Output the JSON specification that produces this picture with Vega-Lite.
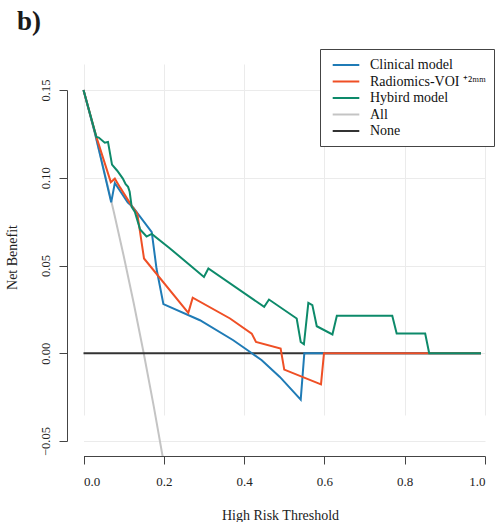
{
  "$schema": "https://vega.github.io/schema/vega-lite/v6.json",
  "width": 432,
  "height": 407,
  "autosize": "none",
  "padding": {"left": 67, "top": 49, "right": 0, "bottom": 66},
  "background": "white",
  "title": {
    "text": "b)",
    "anchor": "start",
    "frame": "group",
    "dx": -50,
    "dy": 22,
    "offset": 14,
    "baseline": "alphabetic",
    "font": "Liberation Serif",
    "fontSize": 27,
    "fontWeight": "bold",
    "color": "#1a1a1a"
  },
  "config": {
    "view": {"stroke": null},
    "font": "Liberation Serif"
  },
  "data": {
    "values": [
      {"series": "All", "x": 0, "y": 0.15},
      {"series": "All", "x": 0.025, "y": 0.1282},
      {"series": "All", "x": 0.05, "y": 0.1053},
      {"series": "All", "x": 0.075, "y": 0.0811},
      {"series": "All", "x": 0.1, "y": 0.0556},
      {"series": "All", "x": 0.125, "y": 0.0286},
      {"series": "All", "x": 0.15, "y": 0.0},
      {"series": "All", "x": 0.175, "y": -0.0303},
      {"series": "All", "x": 0.2, "y": -0.0625},
      {"series": "None", "x": 0, "y": 0},
      {"series": "None", "x": 0.99, "y": 0},
      {"series": "Clinical model", "x": 0, "y": 0.15},
      {"series": "Clinical model", "x": 0.028, "y": 0.126},
      {"series": "Clinical model", "x": 0.069, "y": 0.086},
      {"series": "Clinical model", "x": 0.078, "y": 0.097},
      {"series": "Clinical model", "x": 0.11, "y": 0.086},
      {"series": "Clinical model", "x": 0.124, "y": 0.083},
      {"series": "Clinical model", "x": 0.17, "y": 0.069},
      {"series": "Clinical model", "x": 0.182, "y": 0.048},
      {"series": "Clinical model", "x": 0.199, "y": 0.028},
      {"series": "Clinical model", "x": 0.29, "y": 0.0188},
      {"series": "Clinical model", "x": 0.373, "y": 0.0074},
      {"series": "Clinical model", "x": 0.415, "y": 0.0007},
      {"series": "Clinical model", "x": 0.444, "y": -0.004},
      {"series": "Clinical model", "x": 0.489, "y": -0.0135},
      {"series": "Clinical model", "x": 0.541, "y": -0.0264},
      {"series": "Clinical model", "x": 0.55, "y": 0},
      {"series": "Clinical model", "x": 0.99, "y": 0},
      {"series": "Radiomics-VOI ⁺²ᵐᵐ", "x": 0, "y": 0.15},
      {"series": "Radiomics-VOI ⁺²ᵐᵐ", "x": 0.032, "y": 0.1233},
      {"series": "Radiomics-VOI ⁺²ᵐᵐ", "x": 0.068, "y": 0.0975},
      {"series": "Radiomics-VOI ⁺²ᵐᵐ", "x": 0.078, "y": 0.0995},
      {"series": "Radiomics-VOI ⁺²ᵐᵐ", "x": 0.091, "y": 0.0945},
      {"series": "Radiomics-VOI ⁺²ᵐᵐ", "x": 0.12, "y": 0.084},
      {"series": "Radiomics-VOI ⁺²ᵐᵐ", "x": 0.134, "y": 0.0796},
      {"series": "Radiomics-VOI ⁺²ᵐᵐ", "x": 0.1507, "y": 0.054},
      {"series": "Radiomics-VOI ⁺²ᵐᵐ", "x": 0.261, "y": 0.023},
      {"series": "Radiomics-VOI ⁺²ᵐᵐ", "x": 0.272, "y": 0.0317},
      {"series": "Radiomics-VOI ⁺²ᵐᵐ", "x": 0.365, "y": 0.0198},
      {"series": "Radiomics-VOI ⁺²ᵐᵐ", "x": 0.419, "y": 0.0112},
      {"series": "Radiomics-VOI ⁺²ᵐᵐ", "x": 0.4296, "y": 0.0064},
      {"series": "Radiomics-VOI ⁺²ᵐᵐ", "x": 0.491, "y": 0.0027},
      {"series": "Radiomics-VOI ⁺²ᵐᵐ", "x": 0.5, "y": -0.0093},
      {"series": "Radiomics-VOI ⁺²ᵐᵐ", "x": 0.5915, "y": -0.0177},
      {"series": "Radiomics-VOI ⁺²ᵐᵐ", "x": 0.599, "y": 0},
      {"series": "Radiomics-VOI ⁺²ᵐᵐ", "x": 0.99, "y": 0},
      {"series": "Hybird  model", "x": 0, "y": 0.15},
      {"series": "Hybird  model", "x": 0.032, "y": 0.1233},
      {"series": "Hybird  model", "x": 0.038, "y": 0.1229},
      {"series": "Hybird  model", "x": 0.053, "y": 0.12},
      {"series": "Hybird  model", "x": 0.061, "y": 0.1204},
      {"series": "Hybird  model", "x": 0.071, "y": 0.1075},
      {"series": "Hybird  model", "x": 0.084, "y": 0.104},
      {"series": "Hybird  model", "x": 0.098, "y": 0.0995},
      {"series": "Hybird  model", "x": 0.105, "y": 0.0963},
      {"series": "Hybird  model", "x": 0.111, "y": 0.0948},
      {"series": "Hybird  model", "x": 0.115, "y": 0.092},
      {"series": "Hybird  model", "x": 0.12, "y": 0.0834},
      {"series": "Hybird  model", "x": 0.128, "y": 0.0805},
      {"series": "Hybird  model", "x": 0.141, "y": 0.0705},
      {"series": "Hybird  model", "x": 0.157, "y": 0.0665},
      {"series": "Hybird  model", "x": 0.17, "y": 0.068},
      {"series": "Hybird  model", "x": 0.2155, "y": 0.0597},
      {"series": "Hybird  model", "x": 0.3, "y": 0.0435},
      {"series": "Hybird  model", "x": 0.311, "y": 0.0483},
      {"series": "Hybird  model", "x": 0.45, "y": 0.0264},
      {"series": "Hybird  model", "x": 0.462, "y": 0.0306},
      {"series": "Hybird  model", "x": 0.531, "y": 0.0198},
      {"series": "Hybird  model", "x": 0.541, "y": 0.0064},
      {"series": "Hybird  model", "x": 0.549, "y": 0.0051},
      {"series": "Hybird  model", "x": 0.56, "y": 0.0287},
      {"series": "Hybird  model", "x": 0.57, "y": 0.0274},
      {"series": "Hybird  model", "x": 0.581, "y": 0.0154},
      {"series": "Hybird  model", "x": 0.62, "y": 0.0107},
      {"series": "Hybird  model", "x": 0.631, "y": 0.0213},
      {"series": "Hybird  model", "x": 0.769, "y": 0.0213},
      {"series": "Hybird  model", "x": 0.78, "y": 0.0112},
      {"series": "Hybird  model", "x": 0.851, "y": 0.0112},
      {"series": "Hybird  model", "x": 0.861, "y": 0},
      {"series": "Hybird  model", "x": 0.99, "y": 0}
    ]
  },
  "encoding": {
    "x": {
      "field": "x",
      "type": "quantitative",
      "scale": {"domain": [0, 1], "range": [16.5, 418], "nice": false, "zero": false},
      "axis": {
        "values": [0, 0.2, 0.4, 0.6, 0.8, 1.0],
        "format": ".1f",
        "title": "High Risk Threshold",
        "grid": true,
        "gridColor": "#ebebeb",
        "gridWidth": 1,
        "domainColor": "#444",
        "tickColor": "#444",
        "tickSize": 8,
        "labelFont": "Liberation Serif",
        "labelFontSize": 13,
        "labelColor": "#222",
        "labelPadding": 11,
        "titleFont": "Liberation Serif",
        "titleFontSize": 14,
        "titleFontWeight": "normal",
        "titleColor": "#222",
        "titleX": 213,
        "titleY": 63,
        "titleAlign": "center",
        "titleBaseline": "alphabetic"
      }
    },
    "y": {
      "field": "y",
      "type": "quantitative",
      "scale": {"domain": [-0.05, 0.15], "range": [392, 41], "nice": false, "zero": false},
      "axis": {
        "values": [-0.05, 0, 0.05, 0.1, 0.15],
        "format": ".2f",
        "title": "Net Benefit",
        "grid": true,
        "gridColor": "#ebebeb",
        "gridWidth": 1,
        "domainColor": "#444",
        "tickColor": "#444",
        "tickSize": 8,
        "labelAngle": -90,
        "labelAlign": "center",
        "labelBaseline": "bottom",
        "labelFont": "Liberation Serif",
        "labelFontSize": 12.5,
        "labelColor": "#222",
        "labelPadding": 7,
        "titleFont": "Liberation Serif",
        "titleFontSize": 14,
        "titleFontWeight": "normal",
        "titleColor": "#222",
        "titleAngle": -90,
        "titleX": -51,
        "titleY": 208,
        "titleAlign": "center",
        "titleBaseline": "alphabetic"
      }
    },
    "color": {
      "field": "series",
      "type": "nominal",
      "scale": {
        "domain": ["Clinical model", "Radiomics-VOI ⁺²ᵐᵐ", "Hybird  model", "All", "None"],
        "range": ["#1f7bb6", "#ef4f25", "#0d8a6a", "#c4c4c4", "#333333"]
      },
      "legend": {
        "title": null,
        "orient": "none",
        "legendX": 253,
        "legendY": 0,
        "strokeColor": "#444",
        "fillColor": "white",
        "padding": 8,
        "symbolType": "M-1.9,0H1.9",
        "symbolSize": 196,
        "symbolStrokeWidth": 2,
        "symbolOffset": 10,
        "labelFont": "Liberation Serif",
        "labelFontSize": 14,
        "labelColor": "#111",
        "labelOffset": 16,
        "rowPadding": 1.5
      }
    },
    "strokeWidth": {
      "field": "series",
      "type": "nominal",
      "scale": {
        "domain": ["Clinical model", "Radiomics-VOI ⁺²ᵐᵐ", "Hybird  model", "All", "None"],
        "range": [2, 2, 2, 1.2, 1.2]
      },
      "legend": null
    }
  },
  "layer": [
    {
      "transform": [{"filter": {"field": "series", "oneOf": ["All", "None"]}}],
      "mark": {"type": "line", "clip": true, "strokeCap": "butt"}
    },
    {
      "transform": [{"filter": {"field": "series", "oneOf": ["Clinical model", "Radiomics-VOI ⁺²ᵐᵐ", "Hybird  model"]}}],
      "mark": {"type": "line", "clip": true, "strokeJoin": "miter", "strokeCap": "butt"}
    }
  ]
}
